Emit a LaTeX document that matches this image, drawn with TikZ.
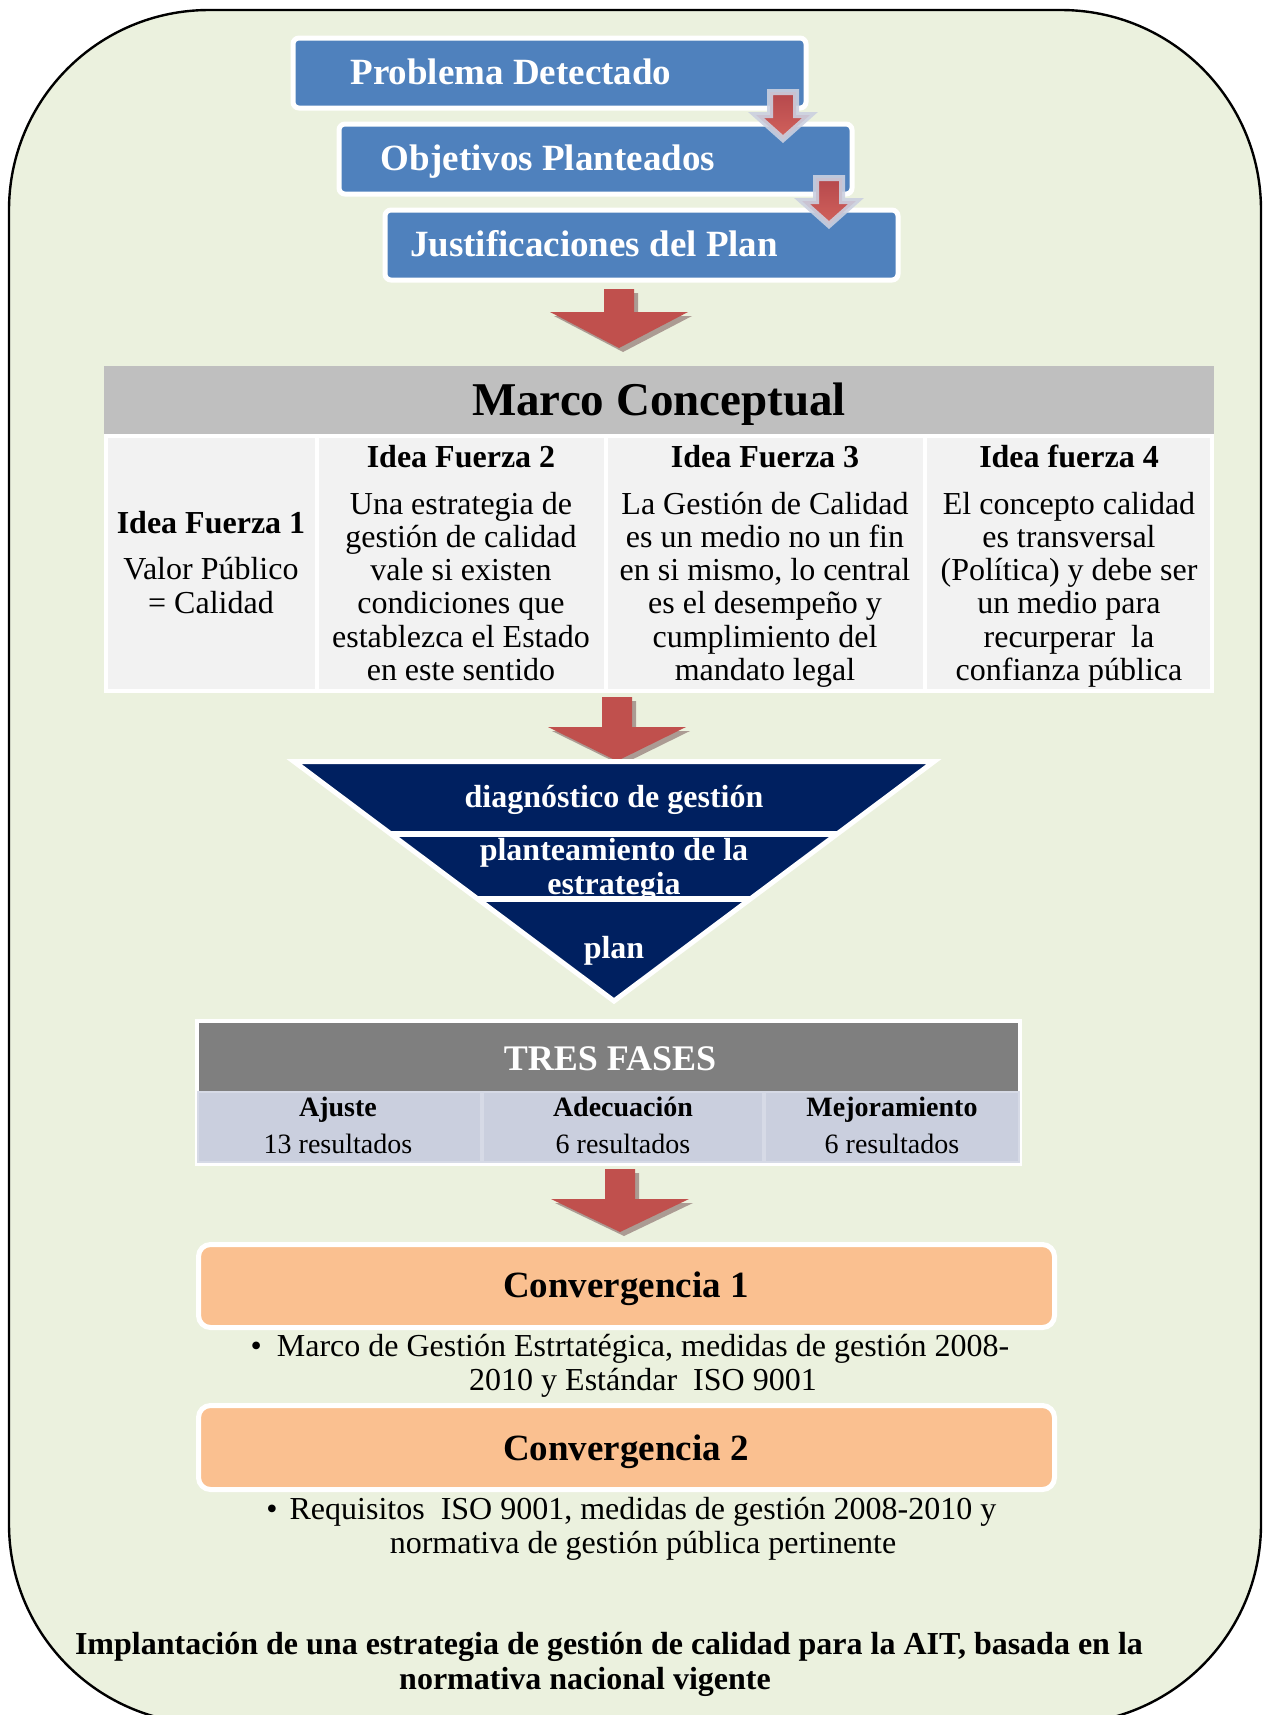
\documentclass[tikz,border=0pt]{standalone}
\usepackage{fontspec}
\setmainfont{Liberation Serif}

\definecolor{panelbg}{HTML}{EBF1DE}
\definecolor{boxblue}{HTML}{4F81BD}
\definecolor{arrowred}{HTML}{C0504D}
\definecolor{arrowredtop}{HTML}{B5484C}
\definecolor{arrowredbot}{HTML}{D2625C}
\definecolor{arrowrim}{HTML}{CBD0E0}
\definecolor{arrowshadow}{HTML}{A08D87}
\definecolor{hdrgray}{HTML}{BFBFBF}
\definecolor{cellgray}{HTML}{F2F2F2}
\definecolor{funnelnavy}{HTML}{002060}
\definecolor{phasehdr}{HTML}{7F7F7F}
\definecolor{phasecell}{HTML}{CACFDE}
\definecolor{phaseline}{HTML}{D6DAE6}
\definecolor{convorange}{HTML}{FAC090}

% font sizes (1 unit of the picture = 0.5pt)
\newcommand\fBlue{\fontsize{18.5pt}{20pt}\selectfont\bfseries}
\newcommand\fTitle{\fontsize{23.5pt}{25pt}\selectfont\bfseries}
\newcommand\fHead{\fontsize{16pt}{16.65pt}\selectfont\bfseries}
\newcommand\fBody{\fontsize{16pt}{16.65pt}\selectfont}
\newcommand\fPhaseTitle{\fontsize{18pt}{20pt}\selectfont\bfseries}
\newcommand\fPhase{\fontsize{14pt}{16pt}\selectfont}
\newcommand\fConv{\fontsize{18.5pt}{20pt}\selectfont\bfseries}

% big red block arrow with a soft shadow: #1 = x of centre, #2 = y of shaft top,
% #3 = shaft length, #4 = total length
\newcommand\blockarrow[4]{%
  \begin{scope}[shift={(#1,#2)}]
    \fill[arrowshadow, opacity=.85] (-11,4) -- (19,4) -- (19,#3+4) -- (73,#3+4)
      -- (4,#4+4) -- (-65,#3+4) -- (-11,#3+4) -- cycle;
    \fill[arrowred] (-15,0) -- (15,0) -- (15,#3) -- (69,#3) -- (0,#4)
      -- (-69,#3) -- (-15,#3) -- cycle;
  \end{scope}}

% small red arrow with a light rim between the stacked blue boxes
\newcommand\stackarrow[2]{%
  \begin{scope}[shift={(#1,#2)}]
    \draw[draw=arrowrim, line width=3pt, top color=arrowredtop,
      bottom color=arrowredbot, draw opacity=.9]
      (-13,0) -- (13,0) -- (13,23) -- (27,23) -- (0,47) -- (-27,23)
      -- (-13,23) -- cycle;
  \end{scope}}

\begin{document}
\begin{tikzpicture}[x=0.5pt,y=-0.5pt,
  every node/.style={inner sep=0pt, outer sep=0pt},
  bluebox/.style={fill=boxblue, draw=white, line width=2.5pt, rounded corners=3pt},
  bluetext/.style={anchor=base, text=white, font=\fBlue},
  colhead/.style={anchor=base, font=\fHead},
  colbody/.style={anchor=base, align=center, font=\fBody},
  tritext/.style={anchor=base, align=center, text=white,
    font=\fontsize{16pt}{17pt}\selectfont\bfseries},
  phasehead/.style={anchor=base, font=\fPhase\bfseries},
  phasebody/.style={anchor=base, font=\fPhase},
  convbox/.style={fill=convorange, draw=white, line width=2.5pt, rounded corners=6pt},
  convtext/.style={anchor=base, font=\fConv},
  bullettext/.style={anchor=base, align=center, font=\fBody},
  closing/.style={anchor=base, font=\fHead}]

\useasboundingbox (0,0) rectangle (1270,1715);
\clip (0,0) rectangle (1270,1715);
\fill[white] (0,0) rectangle (1270,1715);

% rounded panel behind everything
\draw[fill=panelbg, line width=1.2pt, rounded corners=100pt]
  (9,10) rectangle (1261,1724);

% stacked blue boxes
\draw[bluebox] (293,38) rectangle (806,108);
\draw[bluebox] (339,124) rectangle (852,194);
\draw[bluebox] (385,210) rectangle (898,280);
\node[bluetext] (prob) at (511,84) {Problema Detectado};
\node[bluetext] (obj) at (548,170) {Objetivos Planteados};
\node[bluetext] (just) at (594,256) {Justificaciones del Plan};
\stackarrow{783}{92}
\stackarrow{829}{178}

\blockarrow{619}{289}{23}{59}

% conceptual framework table (multi-line texts sit on their last baseline)
\fill[white] (104,434) rectangle (1214,693);
\fill[hdrgray] (104,366) rectangle (1214,434);
\node[anchor=base, font=\fTitle] (marco) at (659,415) {Marco Conceptual};
\fill[cellgray] (108,438) rectangle (315,689);
\fill[cellgray] (319,438) rectangle (604,689);
\fill[cellgray] (608,438) rectangle (923,689);
\fill[cellgray] (927,438) rectangle (1210,689);

\node[colhead] (if1) at (211,533) {Idea Fuerza 1};
\node[colbody] (if1t) at (211,613) {Valor Público\\= Calidad};
\node[colhead] (if2) at (461,467) {Idea Fuerza 2};
\node[colbody] (if2t) at (461,680.5) {Una estrategia de\\gestión de calidad\\vale si existen\\condiciones que\\establezca el Estado\\en este sentido};
\node[colhead] (if3) at (765,467) {Idea Fuerza 3};
\node[colbody] (if3t) at (765,680.5) {La Gestión de Calidad\\es un medio no un fin\\en si mismo, lo central\\es el desempeño y\\cumplimiento del\\mandato legal};
\node[colhead] (if4) at (1069,467) {Idea fuerza 4};
\node[colbody] (if4t) at (1069,680.5) {El concepto calidad\\es transversal\\(Política) y debe ser\\un medio para\\recurperar~ la\\confianza pública};

\blockarrow{617}{697}{30}{64}

% inverted funnel, split into three bands by white gaps
\fill[funnelnavy] (294,761.5) -- (934,761.5) -- (614,1001) -- cycle;
\node[tritext] (diag) at (614,807) {diagnóstico de gestión};
\node[tritext] (estr) at (614,894) {planteamiento de la\\estrategia};
\node[tritext] (plan) at (614,958) {plan};
\draw[white, line width=3pt] (391,834) -- (837,834);
\draw[white, line width=3pt] (478,899) -- (750,899);
\draw[white, line width=2.5pt] (294,761.5) -- (934,761.5) -- (614,1001) -- cycle;

% three phases table
\fill[white] (195,1019) rectangle (1022,1166);
\fill[phasehdr] (199,1023) rectangle (1018,1091);
\filldraw[fill=phasecell, draw=phaseline, line width=1pt] (198,1092) rectangle (481,1162);
\filldraw[fill=phasecell, draw=phaseline, line width=1pt] (483,1092) rectangle (763,1162);
\filldraw[fill=phasecell, draw=phaseline, line width=1pt] (765,1092) rectangle (1019,1162);
\node[anchor=base, text=white, font=\fPhaseTitle] (fases) at (610,1070) {TRES FASES};
\node[phasehead] (aj) at (338,1116) {Ajuste};
\node[phasebody] (ajr) at (338,1153) {13 resultados};
\node[phasehead] (ad) at (623,1116) {Adecuación};
\node[phasebody] (adr) at (623,1153) {6 resultados};
\node[phasehead] (me) at (892,1116) {Mejoramiento};
\node[phasebody] (mer) at (892,1153) {6 resultados};

\blockarrow{620}{1169}{30}{63}

% convergence boxes and their bullets
\draw[convbox] (198.5,1244.5) rectangle (1054.5,1327.5);
\node[convtext] (conv1) at (626,1297) {Convergencia 1};
\node[bullettext] (conv1t) at (643,1390)
  {\llap{•\hspace{7.5pt}}Marco de Gestión Estrtatégica, medidas de gestión 2008-\\2010 y Estándar~ ISO 9001};
\draw[convbox] (198.5,1405.5) rectangle (1054.5,1489.5);
\node[convtext] (conv2) at (626,1460) {Convergencia 2};
\node[bullettext] (conv2t) at (643,1553)
  {\llap{•\hspace{6pt}}Requisitos~ ISO 9001, medidas de gestión 2008-2010 y\\normativa de gestión pública pertinente};

% closing statement
\node[closing] (goal1) at (609,1654) {Implantación de una estrategia de gestión de calidad para la AIT, basada en la};
\node[closing] (goal2) at (585,1689) {normativa nacional vigente};
\end{tikzpicture}
\end{document}
